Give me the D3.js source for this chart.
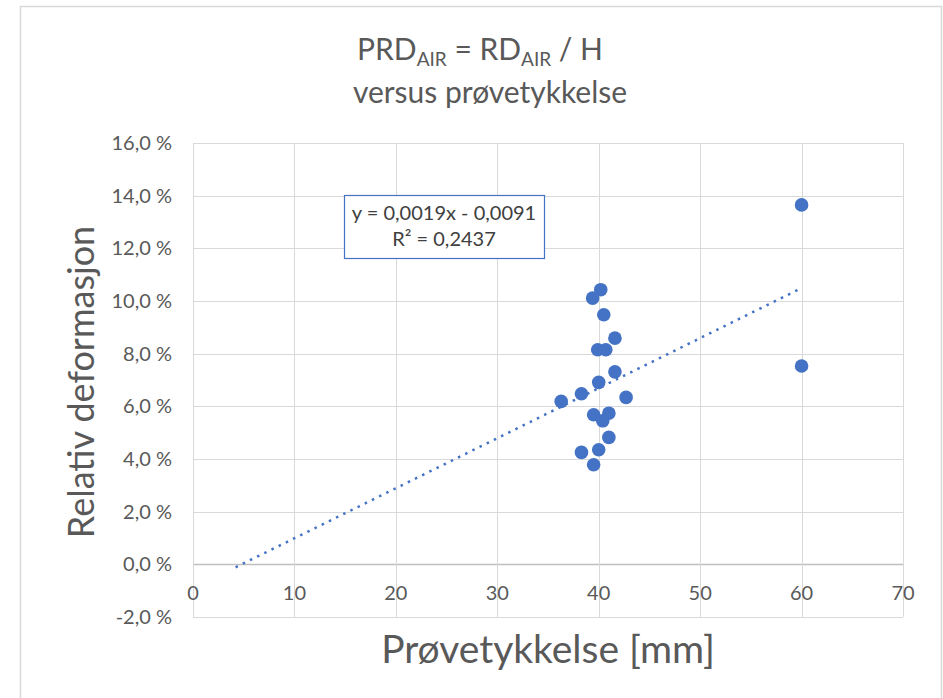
<!DOCTYPE html>
<html>
<head>
<meta charset="utf-8">
<script src="https://cdn.jsdelivr.net/npm/d3@7"></script>
<style>
  body { margin: 0; background: #fff; }
  text { font-family: Lato, "Open Sans", sans-serif; fill: #595959; }
</style>
</head>
<body>
<script>
// Data
const thickness = [60, 60, 40.2, 39.4, 40.5, 41.6, 39.9, 40.7, 41.6, 40.0,
                   38.3, 36.3, 42.7, 39.5, 41.0, 40.4, 41.0, 40.0, 38.3, 39.5];
const deformation = [0.1365, 0.0753, 0.1043, 0.1011, 0.0948, 0.0859, 0.0815, 0.0815, 0.0731, 0.0691,
                     0.0648, 0.0619, 0.0634, 0.0568, 0.0574, 0.0545, 0.0482, 0.0435, 0.0425, 0.0378];
const xTicks = [0, 10, 20, 30, 40, 50, 60, 70];
const yTicks = [-0.02, 0, 0.02, 0.04, 0.06, 0.08, 0.10, 0.12, 0.14, 0.16];
// linear trendline: slope, intercept, and drawn x range
const trendCoef = [0.0019, -0.0091];
const trendRange = [4.2, 60];
const eqLines = ["y = 0,0019x - 0,0091", "R² = 0,2437"];

const W = 943, H = 698;
const blue = "#4472c4";

const svg = d3.select("body").append("svg")
    .attr("width", W)
    .attr("height", H);

// chart area border
svg.append("rect")
    .attr("x", 20.5).attr("y", 6.5)
    .attr("width", 921).attr("height", 720)
    .attr("fill", "#fff")
    .attr("stroke", "#d9d9d9")
    .attr("stroke-width", 1.5);

const x = d3.scaleLinear().domain([0, 70]).range([193, 903]);
const y = d3.scaleLinear().domain([-0.02, 0.16]).range([617, 143]);

const nb = d3.formatLocale({decimal: ",", thousands: " ", grouping: [3], currency: ["", ""], minus: "-"});
const pct = v => nb.format(".1f")(v * 100) + " %";

// gridlines
svg.append("g")
    .selectAll("line")
    .data(yTicks)
    .join("line")
    .attr("x1", x(0)).attr("x2", x(70))
    .attr("y1", d => Math.round(y(d)) + 0.5)
    .attr("y2", d => Math.round(y(d)) + 0.5)
    .attr("stroke", d => d === 0 ? "#bfbfbf" : "#d9d9d9")
    .attr("stroke-width", d => d === 0 ? 1.5 : 1);

svg.append("g")
    .selectAll("line")
    .data(xTicks)
    .join("line")
    .attr("x1", d => Math.round(x(d)) + 0.5)
    .attr("x2", d => Math.round(x(d)) + 0.5)
    .attr("y1", y(0.16)).attr("y2", y(-0.02))
    .attr("stroke", "#d9d9d9");

// y tick labels
svg.append("g")
    .selectAll("text")
    .data(yTicks)
    .join("text")
    .attr("x", 172)
    .attr("y", d => y(d) + 7)
    .attr("text-anchor", "end")
    .style("font-size", "20px")
    .text(d => pct(d));

// x tick labels (sit under the zero line)
svg.append("g")
    .selectAll("text")
    .data(xTicks)
    .join("text")
    .attr("x", d => x(d))
    .attr("y", y(0) + 36)
    .attr("text-anchor", "middle")
    .style("font-size", "20px")
    .text(d => d);

// trendline
const trend = trendRange.map(v => [v, trendCoef[0] * v + trendCoef[1]]);
svg.append("path")
    .attr("d", d3.line().x(d => x(d[0])).y(d => y(d[1]))(trend))
    .attr("fill", "none")
    .attr("stroke", blue)
    .attr("stroke-width", 2.5)
    .attr("stroke-dasharray", "2.5,5.5");

// points
svg.append("g")
    .selectAll("circle")
    .data(thickness)
    .join("circle")
    .attr("cx", d => x(d))
    .attr("cy", (d, i) => y(deformation[i]))
    .attr("r", 6.8)
    .attr("fill", blue);

// equation box
svg.append("rect")
    .attr("x", 344.5).attr("y", 195.5)
    .attr("width", 200).attr("height", 63)
    .attr("fill", "#fff")
    .attr("stroke", blue)
    .attr("stroke-width", 1.2);

svg.append("g")
    .selectAll("text")
    .data(eqLines)
    .join("text")
    .attr("x", 444)
    .attr("y", (d, i) => 220 + i * 26)
    .attr("text-anchor", "middle")
    .style("font-size", "20px")
    .style("fill", "#404040")
    .text(d => d);

// title
const t1 = svg.append("text")
    .attr("x", 480).attr("y", 60)
    .attr("text-anchor", "middle")
    .style("font-size", "30px");
t1.append("tspan").text("PRD");
t1.append("tspan").attr("dy", 6).style("font-size", "19px").text("AIR");
t1.append("tspan").attr("dy", -6).text(" = RD");
t1.append("tspan").attr("dy", 6).style("font-size", "19px").text("AIR");
t1.append("tspan").attr("dy", -6).text(" / H");

svg.append("text")
    .attr("x", 490).attr("y", 103)
    .attr("text-anchor", "middle")
    .style("font-size", "30px")
    .text("versus prøvetykkelse");

// axis titles
svg.append("text")
    .attr("x", 548).attr("y", 663)
    .attr("text-anchor", "middle")
    .style("font-size", "39px")
    .text("Prøvetykkelse [mm]");

svg.append("text")
    .attr("transform", "translate(94,382) rotate(-90)")
    .attr("text-anchor", "middle")
    .style("font-size", "36px")
    .text("Relativ deformasjon");
</script>
</body>
</html>
